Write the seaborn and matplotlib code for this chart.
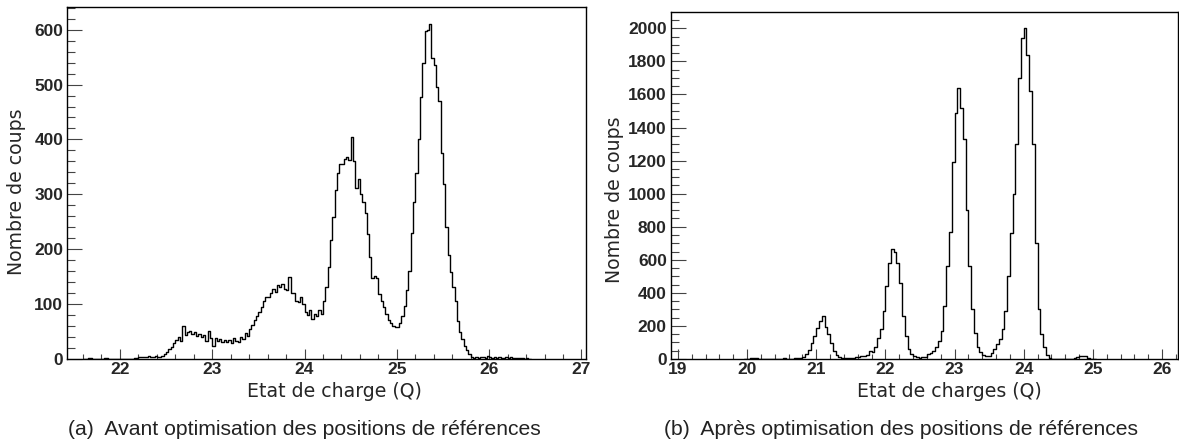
import numpy as np
import pandas as pd
import seaborn as sns
import matplotlib.pyplot as plt
from matplotlib.ticker import MultipleLocator

# --- Data ---
# (a) before optimisation: bins of 0.025 starting at 21.60
left_start = 21.60
left_width = 0.025
left_counts = [
    0, 0, 1, 1, 0, 0, 0, 0,            # 21.6
    0, 1, 1, 0, 0, 0, 0, 0,            # 21.8
    0, 0, 0, 0, 0, 0, 1, 2,            # 22.0
    3, 4, 3, 4, 5, 4, 3, 5,            # 22.2
    4, 4, 5, 8, 12, 17, 22, 28,        # 22.4
    35, 40, 33, 60, 43, 48, 50, 45,    # 22.6
    49, 42, 45, 40, 44, 33, 50, 38,    # 22.8
    24, 38, 32, 36, 30, 35, 30, 34,    # 23.0
    28, 38, 33, 30, 40, 36, 46, 42,    # 23.2
    55, 62, 70, 78, 85, 95, 105, 113,  # 23.4
    113, 120, 128, 122, 134, 130, 137, 128,  # 23.6
    125, 149, 120, 119, 105, 103, 113, 100,  # 23.8
    85, 80, 88, 73, 82, 78, 88, 82,    # 24.0
    106, 131, 168, 216, 259, 307, 338, 356,  # 24.2
    356, 365, 368, 362, 405, 360, 312, 328,  # 24.4
    301, 285, 265, 228, 186, 148, 150, 148,  # 24.6
    118, 106, 95, 82, 70, 65, 60, 58,  # 24.8
    58, 66, 78, 96, 125, 160, 230, 285,  # 25.0
    338, 400, 478, 540, 598, 600, 610, 548,  # 25.2
    535, 495, 470, 375, 318, 240, 190, 158,  # 25.4
    130, 105, 68, 48, 36, 24, 16, 9,   # 25.6
    4, 2, 3, 2, 4, 3, 2, 5,            # 25.8
    3, 2, 4, 2, 3, 2, 1, 3,            # 26.0
    2, 3, 1, 2, 2, 1, 2, 0,            # 26.2
    1, 0,                              # 26.4
]

# (b) after optimisation: bins of 0.04 starting at 19.96
right_start = 19.96
right_width = 0.04
right_counts = [
    0, 0, 6, 8, 6, 2, 0, 0, 0, 0,                  # 19.96
    0, 0, 0, 3, 5, 0, 0, 2, 4, 6,                  # 20.36
    8, 14, 28, 55, 95, 140, 185, 230, 262, 195,    # 20.76
    150, 95, 48, 22, 12, 8, 6, 8, 6, 8,            # 21.16
    10, 12, 16, 20, 22, 50, 42, 75, 130, 180,      # 21.56
    290, 440, 580, 665, 650, 580, 460, 260, 140, 60,   # 21.96
    28, 16, 12, 8, 10, 14, 28, 36, 46, 70,         # 22.36
    110, 170, 320, 560, 770, 1190, 1490, 1640, 1520, 1330,  # 22.76
    900, 560, 300, 160, 75, 40, 25, 18, 16, 35,    # 23.16
    60, 90, 120, 180, 290, 500, 760, 1000, 1300, 1700,  # 23.56
    1940, 2000, 1840, 1620, 1300, 700, 300, 150, 70, 25,  # 23.96
    6, 2, 0, 0, 0, 0, 0, 0, 0, 4,                  # 24.36
    10, 18, 16, 20, 8, 3, 0,                       # 24.76
]

captions = [
    "(a)  Avant optimisation des positions de références",
    "(b)  Après optimisation des positions de références",
]
xlabels = ["Etat de charge (Q)", "Etat de charges (Q)"]
ylabel = "Nombre de coups"


def hist_frame(start, width, counts):
    n = len(counts)
    edges = np.linspace(start, start + n * width, n + 1)
    df = pd.DataFrame({"charge": edges[:-1] + width / 2, "coups": counts})
    return edges.tolist(), df


sns.set_style("ticks")
plt.rcParams["font.family"] = ["DejaVu Sans"]

fig = plt.figure(figsize=(11.79, 4.44), dpi=100)
ax_l = fig.add_axes([0.0571, 0.1921, 0.4400, 0.7915])
ax_r = fig.add_axes([0.5691, 0.1914, 0.4300, 0.7809])

panels = [
    (ax_l, left_start, left_width, left_counts, (21.43, 27.05), 641, 100, 20),
    (ax_r, right_start, right_width, right_counts, (18.90, 26.23), 2097, 200, 50),
]

for ax, start, width, counts, xlim, ytop, ymaj, ymin in panels:
    edges, df = hist_frame(start, width, counts)
    sns.histplot(data=df, x="charge", weights="coups", bins=edges,
                 element="step", fill=False, color="black", linewidth=1.0, ax=ax)
    ax.set_xlim(*xlim)
    ax.set_ylim(0, ytop)
    ax.xaxis.set_major_locator(MultipleLocator(1))
    ax.xaxis.set_minor_locator(MultipleLocator(0.2))
    ax.yaxis.set_major_locator(MultipleLocator(ymaj))
    ax.yaxis.set_minor_locator(MultipleLocator(ymin))
    ax.tick_params(axis="x", which="major", direction="in", length=7.5,
                   width=0.8, color="#444444", pad=2.5)
    ax.tick_params(axis="x", which="minor", direction="in", length=3.8,
                   width=0.8, color="#444444")
    ax.tick_params(axis="y", which="major", direction="in", length=11,
                   width=0.8, color="#444444", pad=3)
    ax.tick_params(axis="y", which="minor", direction="in", length=6,
                   width=0.8, color="#444444")
    for lab in ax.get_xticklabels() + ax.get_yticklabels():
        lab.set_family("Liberation Sans")
        lab.set_weight("bold")
        lab.set_fontsize(12.5)
    for sp in ax.spines.values():
        sp.set_visible(True)
        sp.set_color("black")
        sp.set_linewidth(1.0)
    ax.set_ylabel(ylabel, fontsize=13.6)

ax_l.set_xlabel(xlabels[0], fontsize=13.6)
ax_r.set_xlabel(xlabels[1], fontsize=13.6)
ax_l.xaxis.set_label_coords(0.514, -0.065)
ax_r.xaxis.set_label_coords(0.55, -0.065)
ax_l.yaxis.set_label_coords(-0.079, 0.474)
ax_r.yaxis.set_label_coords(-0.093, 0.459)

fig.text(0.258, 0.032, captions[0], ha="center", va="center",
         fontsize=15.2, family="Liberation Sans", color="#222222")
fig.text(0.764, 0.032, captions[1], ha="center", va="center",
         fontsize=15.2, family="Liberation Sans", color="#222222")

fig.savefig("out.png", dpi=100)
